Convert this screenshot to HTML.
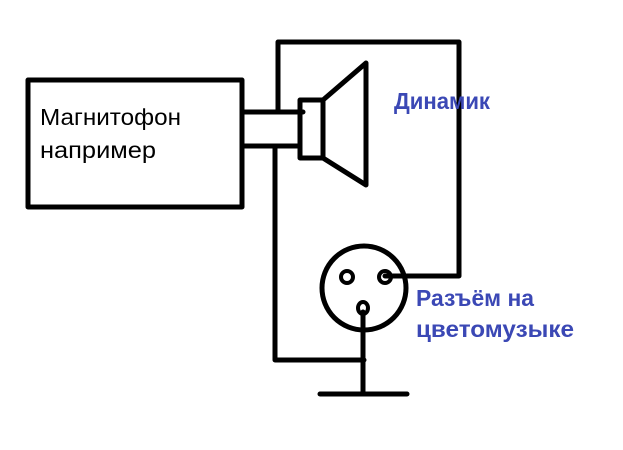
<!DOCTYPE html>
<html><head><meta charset="utf-8"><style>html,body{margin:0;padding:0;background:#fff}</style></head>
<body>
<svg width="623" height="445" viewBox="0 0 623 445" xmlns="http://www.w3.org/2000/svg">
<g stroke="#000" stroke-width="5" fill="none" stroke-linecap="round" stroke-linejoin="round">
<rect x="28" y="80" width="214" height="127"/>
<line x1="242" y1="112" x2="303" y2="112"/>
<line x1="242" y1="146" x2="300" y2="146"/>
<rect x="300" y="100" width="23" height="58"/>
<polyline points="323,100 366,63 366,185 323,158"/>
<polyline points="278,112 278,42 459,42 459,276 385,276"/>
<polyline points="275,146 275,360 364,360"/>
<circle cx="364" cy="288" r="42"/>
<circle cx="347" cy="277" r="6" stroke-width="4"/>
<circle cx="385" cy="277" r="6" stroke-width="4"/>
<ellipse cx="363" cy="308" rx="5" ry="6" stroke-width="4"/>
<line x1="363" y1="312" x2="363" y2="394"/>
<line x1="320" y1="394" x2="407" y2="394"/>
</g>
<g font-family="Liberation Sans, sans-serif">
<text x="40" y="125" font-size="23" textLength="141" lengthAdjust="spacingAndGlyphs" fill="#000">Магнитофон</text>
<text x="40" y="158" font-size="23" textLength="116" lengthAdjust="spacingAndGlyphs" fill="#000">например</text>
<g fill="#3b48b5" font-weight="bold" font-size="23">
<text x="394" y="109" textLength="96" lengthAdjust="spacingAndGlyphs">Динамик</text>
<text x="416" y="306" textLength="118" lengthAdjust="spacingAndGlyphs">Разъём на</text>
<text x="416" y="337" textLength="158" lengthAdjust="spacingAndGlyphs">цветомузыке</text>
</g>
</g>
</svg>
</body></html>
